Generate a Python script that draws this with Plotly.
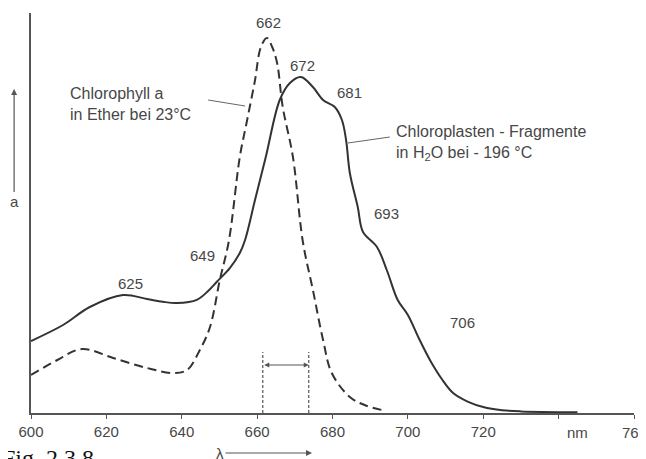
import plotly.graph_objects as go

# Chlorophyll a in ether, 23 °C (dashed)
chl_x = [600, 607, 613.5, 621.8, 630.8, 637.7, 641.4, 644.8, 647.5, 650.1, 652.5, 655.4,
         657.3, 659.4, 661, 662.6, 664, 665.3, 666.8, 669.5, 672.1, 674.8, 677.5, 679.8,
         684.6, 689, 693.4]
chl_y = [9.5, 13.25, 16, 13.75, 11.25, 10, 10.75, 15.75, 21.5, 33.25, 43, 64,
         73, 83, 91.5, 93.75, 91.5, 87.5, 76.5, 64, 43, 30.75, 18.25, 10,
         4, 1.8, 0.7]

# Chloroplast fragments in H2O, -196 °C (solid)
frag_x = [600, 608.5, 615.6, 624.4, 630.8, 635, 638.7, 644, 647, 649.3, 652.8, 655.4, 656.8,
          659.5, 662.3, 666, 668.7, 671.6, 674.8, 677.5, 680.6, 682.5, 683.6, 684.6, 686.7,
          688.1, 691.8, 694.4, 697.3, 700, 703, 706, 709, 712, 716, 720, 725, 730, 745]
frag_y = [18, 22, 26.5, 29.5, 28.5, 27.8, 27.5, 28.3, 30.5, 32.8, 36.3, 40, 43.25,
          53.5, 64, 78.25, 82.5, 84, 81.5, 78.25, 76.5, 73.25, 68.25, 60, 51.5,
          45.25, 41.5, 35.75, 28.25, 24.5, 18.5, 13, 8.5, 5, 2.8, 1.5, 0.7, 0.4, 0.2]

# Peak labels
peak_labels = ["662", "672", "681", "649", "625", "693", "706"]
peak_x = [663.1, 672.1, 684.6, 645.4, 626.3, 694.4, 714.6]
peak_y = [97.75, 87, 80.25, 39.5, 32.5, 50, 22.75]

tick_vals = [600, 620, 640, 660, 680, 700, 720, 740, 760]
tick_text = ["600", "620", "640", "660", "680", "700", "720", "", ""]
edge_tick = "760"

# Half-width markers
hw_x = [661.5, 673.7]
hw_top = 15.25
hw_arrow_y = 12

ink = "#333333"
txt = "#474747"
font_main = "Liberation Sans, Arial, sans-serif"

fig = go.Figure()
fig.add_trace(go.Scatter(x=chl_x, y=chl_y, mode="lines",
                         line=dict(color=ink, width=2, dash="9px,5px", shape="spline", smoothing=1),
                         hoverinfo="skip", showlegend=False))
fig.add_trace(go.Scatter(x=frag_x, y=frag_y, mode="lines",
                         line=dict(color=ink, width=2, shape="spline", smoothing=1),
                         hoverinfo="skip", showlegend=False))

# vertical dashed half-width lines
for xv in hw_x:
    fig.add_shape(type="line", x0=xv, x1=xv, y0=0, y1=hw_top, xref="x", yref="y",
                  line=dict(color="#555", width=1.2, dash="3px,2px"))
# double-headed arrow between them
fig.add_annotation(x=hw_x[1], y=hw_arrow_y, ax=hw_x[0], ay=hw_arrow_y, xref="x", yref="y",
                   axref="x", ayref="y", text="", showarrow=True, arrowhead=2, arrowside="end+start",
                   arrowsize=1, arrowwidth=1, arrowcolor="#555")

for t, xv, yv in zip(peak_labels, peak_x, peak_y):
    fig.add_annotation(x=xv, y=yv, text=t, showarrow=False, xref="x", yref="y",
                       font=dict(family=font_main, size=15, color=txt))

# series labels with leader lines
fig.add_annotation(x=609.8, y=77.25, xref="x", yref="y", xanchor="left", align="left",
                   text="Chlorophyll a<br>in Ether bei 23°C", showarrow=False,
                   font=dict(family=font_main, size=16, color=txt))
fig.add_shape(type="line", x0=647, y0=78.25, x1=656.8, y1=76.75, xref="x", yref="y",
              line=dict(color="#666", width=1))
fig.add_annotation(x=696.3, y=67.5, xref="x", yref="y", xanchor="left", align="left",
                   text="Chloroplasten - Fragmente<br>in H<sub>2</sub>O bei - 196 °C", showarrow=False,
                   font=dict(family=font_main, size=16, color=txt))
fig.add_shape(type="line", x0=684.1, y0=67.5, x1=695.2, y1=69, xref="x", yref="y",
              line=dict(color="#666", width=1))

# nm unit and the 760 label at the right edge
fig.add_annotation(x=745, y=-0.075, xref="x", yref="paper", text="nm", showarrow=False,
                   font=dict(family=font_main, size=15, color=txt))
fig.add_annotation(x=760, y=-0.075, xref="x", yref="paper", text=edge_tick, showarrow=False,
                   font=dict(family=font_main, size=15, color=txt))

# y-axis "a" with upward arrow
fig.add_annotation(x=-0.028, y=0.81, ax=0, ay=113, xref="paper", yref="paper",
                   text="a", showarrow=True, arrowhead=2, standoff=0,
                   arrowsize=1, arrowwidth=1.2, arrowcolor="#555",
                   font=dict(family=font_main, size=15, color=txt))

# lambda with arrow
fig.add_annotation(x=0.466, y=-0.1, ax=-92, ay=0, xref="paper", yref="paper",
                   text="λ", showarrow=True, arrowhead=2,
                   arrowsize=1, arrowwidth=1.2, arrowcolor="#555",
                   font=dict(family=font_main, size=15, color=txt))

# figure caption (partly cut at bottom)
fig.add_annotation(x=-0.051, y=-0.075, xref="paper", yref="paper", xanchor="left", yanchor="top",
                   text="Fig. 2.3.8", showarrow=False,
                   font=dict(family="Liberation Serif, Times New Roman, serif", size=24, color="#111"))

# page body has an 8px default margin: compensate so the plot sits where it should
fig.update_layout(
    width=638, height=451,
    margin=dict(l=23, r=12, t=5, b=46),
    paper_bgcolor="white", plot_bgcolor="white",
    xaxis=dict(range=[600, 760], showgrid=False, zeroline=False, showline=True,
               linecolor="#555", linewidth=1.6, ticks="outside", ticklen=4, tickwidth=1.2,
               tickcolor="#555", tickvals=tick_vals, ticktext=tick_text,
               tickfont=dict(family=font_main, size=15, color=txt)),
    yaxis=dict(range=[0, 100], showgrid=False, zeroline=False, showline=True,
               linecolor="#555", linewidth=1.6, showticklabels=False, ticks=""),
)

fig.write_html("out.html")
